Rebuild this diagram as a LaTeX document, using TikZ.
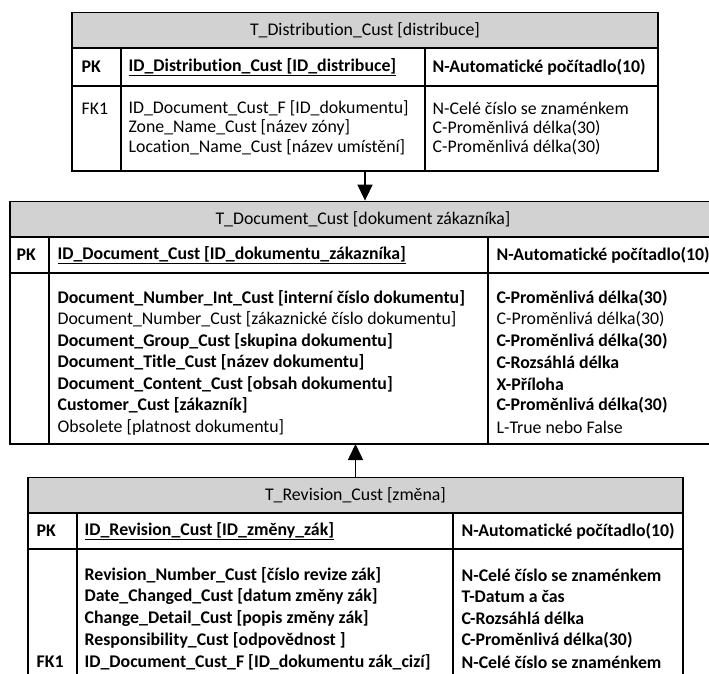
\documentclass[tikz,border=0pt]{standalone}
\usepackage{fontspec}
\setmainfont{Carlito}[Ligatures={NoCommon}]
\usetikzlibrary{arrows.meta}

\begin{document}
\begin{tikzpicture}[x=1pt,y=-1pt,line width=1.3pt,
  otsikko/.style={draw,fill=gray!35,inner sep=0pt,minimum height=35.5pt},
  solu/.style={anchor=west,inner sep=0pt},
  nuoli/.style={-{Triangle[length=16pt,width=15pt]},line width=1.6pt}]
\fontsize{17.8}{20}\selectfont
\useasboundingbox (0,0) rectangle (709,674);

% T_Distribution_Cust
\node[otsikko,minimum width=586pt] (jakelu) at (365,30.5) {T\_Distribution\_Cust [distribuce]};
\path[draw] (72,48) rectangle (658,171);
\path[draw] (121,48) -- (121,171);
\path[draw] (425,48) -- (425,171);
\path[draw] (72,86) -- (658,86);
\node[solu] (jakeluPK) at (81,67) {\textbf{PK}};
\node[solu] (jakeluID) at (128,67) {\textbf{\underline{ID\_Distribution\_Cust [ID\_distribuce]}}};
\node[solu] (jakeluIDt) at (432,67) {\textbf{N-Automatické počítadlo(10)}};
\node[solu] (jakeluFK) at (81,108.5) {FK1};
\node[solu] (jakelu1) at (128,108.5) {ID\_Document\_Cust\_F [ID\_dokumentu]};
\node[solu] (jakelu1t) at (432,108.5) {N-Celé číslo se znaménkem};
\node[solu] (jakelu2) at (128,128) {Zone\_Name\_Cust [název zóny]};
\node[solu] (jakelu2t) at (432,128) {C-Proměnlivá délka(30)};
\node[solu] (jakelu3) at (128,147.5) {Location\_Name\_Cust [název umístění]};
\node[solu] (jakelu3t) at (432,147.5) {C-Proměnlivá délka(30)};

% T_Document_Cust
\node[otsikko,minimum width=706pt] (dokumentti) at (363,219) {T\_Document\_Cust [dokument zákazníka]};
\path[draw] (10,237) rectangle (716,444);
\path[draw] (49,237) -- (49,444);
\path[draw] (488,237) -- (488,444);
\path[draw] (10,273) -- (716,273);
\node[solu] (dokPK) at (16,255) {\textbf{PK}};
\node[solu] (dokID) at (57,255) {\textbf{\underline{ID\_Document\_Cust [ID\_dokumentu\_zákazníka]}}};
\node[solu] (dokIDt) at (496,255) {\textbf{N-Automatické počítadlo(10)}};
\node[solu] (dok1) at (57,298) {\textbf{Document\_Number\_Int\_Cust [interní číslo dokumentu]}};
\node[solu] (dok1t) at (496,298) {\textbf{C-Proměnlivá délka(30)}};
\node[solu] (dok2) at (57,319.5) {Document\_Number\_Cust [zákaznické číslo dokumentu]};
\node[solu] (dok2t) at (496,319.5) {C-Proměnlivá délka(30)};
\node[solu] (dok3) at (57,341) {\textbf{Document\_Group\_Cust [skupina dokumentu]}};
\node[solu] (dok3t) at (496,341) {\textbf{C-Proměnlivá délka(30)}};
\node[solu] (dok4) at (57,362.5) {\textbf{Document\_Title\_Cust [název dokumentu]}};
\node[solu] (dok4t) at (496,362.5) {\textbf{C-Rozsáhlá délka}};
\node[solu] (dok5) at (57,384) {\textbf{Document\_Content\_Cust [obsah dokumentu]}};
\node[solu] (dok5t) at (496,384) {\textbf{X-Příloha}};
\node[solu] (dok6) at (57,405.5) {\textbf{Customer\_Cust [zákazník]}};
\node[solu] (dok6t) at (496,405.5) {\textbf{C-Proměnlivá délka(30)}};
\node[solu] (dok7) at (57,427) {Obsolete [platnost dokumentu]};
\node[solu] (dok7t) at (496,427) {L-True nebo False};

% T_Revision_Cust
\node[otsikko,minimum width=655pt] (muutos) at (355.5,495.5) {T\_Revision\_Cust [změna]};
\path[draw] (28,680) |- (683,513) -- (683,680);
\path[draw] (77,513) -- (77,680);
\path[draw] (453,513) -- (453,680);
\path[draw] (28,549) -- (683,549);
\node[solu] (muutosPK) at (36,531) {\textbf{PK}};
\node[solu] (muutosID) at (84,531) {\textbf{\underline{ID\_Revision\_Cust [ID\_změny\_zák]}}};
\node[solu] (muutosIDt) at (461,531) {\textbf{N-Automatické počítadlo(10)}};
\node[solu] (muutos1) at (84,575) {\textbf{Revision\_Number\_Cust [číslo revize zák]}};
\node[solu] (muutos1t) at (461,575) {\textbf{N-Celé číslo se znaménkem}};
\node[solu] (muutos2) at (84,596.75) {\textbf{Date\_Changed\_Cust [datum změny zák]}};
\node[solu] (muutos2t) at (461,596.75) {\textbf{T-Datum a čas}};
\node[solu] (muutos3) at (84,618.5) {\textbf{Change\_Detail\_Cust [popis změny zák]}};
\node[solu] (muutos3t) at (461,618.5) {\textbf{C-Rozsáhlá délka}};
\node[solu] (muutos4) at (84,640.25) {\textbf{Responsibility\_Cust [odpovědnost ]}};
\node[solu] (muutos4t) at (461,640.25) {\textbf{C-Proměnlivá délka(30)}};
\node[solu] (muutosFK) at (36,662) {\textbf{FK1}};
\node[solu] (muutos5) at (84,662) {\textbf{ID\_Document\_Cust\_F [ID\_dokumentu zák\_cizí]}};
\node[solu] (muutos5t) at (461,662) {\textbf{N-Celé číslo se znaménkem}};

% vazby
\coordinate (jakeluala) at (365,171);
\coordinate (dokala) at (355.5,444);
\path[draw,nuoli] (jakeluala) -- (jakeluala |- dokumentti.north);
\path[draw,nuoli] (muutos.north) -- (dokala);
\end{tikzpicture}
\end{document}
